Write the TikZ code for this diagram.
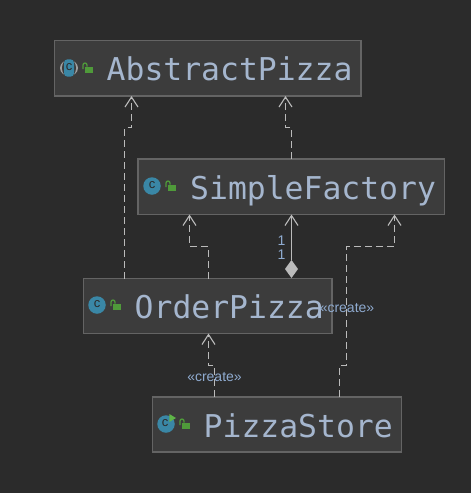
\documentclass[tikz,border=0pt]{standalone}
\usepackage{fontspec}
\setmainfont{Liberation Sans}
\newfontfamily\monof{DejaVu Sans Mono}
\usetikzlibrary{arrows.meta,shapes.geometric}
\definecolor{bgc}{HTML}{2B2B2B}
\definecolor{boxc}{HTML}{3C3C3C}
\definecolor{edgec}{HTML}{646464}
\definecolor{txt}{HTML}{A5B6CE}
\definecolor{linec}{HTML}{BBBBBB}
\definecolor{teal}{HTML}{3A87A6}
\definecolor{lockc}{HTML}{4F9A3A}
\definecolor{playc}{HTML}{5FB548}
\definecolor{lbl}{HTML}{8FABD0}
\tikzset{
  x=1pt,y=-1pt,
  cls/.style={draw=edgec,fill=boxc,line width=1.4pt,inner sep=0pt,outer sep=0pt,anchor=north west},
  nm/.style={font=\monof\fontsize{31.4}{31.4}\selectfont,text=txt,anchor=base west,inner sep=0pt},
  dep/.style={draw=linec,line width=1.1pt,dash pattern=on 7pt off 4pt,-{Straight Barb[length=10pt,width=13pt,line width=1.1pt]}},
  comp/.style={draw=linec,line width=1.5pt,-{Straight Barb[length=10pt,width=13pt,line width=1.1pt]}},
  dia/.style={diamond,fill=linec,minimum width=13pt,minimum height=18pt,inner sep=0pt,outer sep=0pt},
  stereo/.style={font=\fontsize{14}{14}\selectfont,text=lbl,inner sep=0pt},
  mult/.style={font=\fontsize{14}{14}\selectfont,text=lbl,inner sep=0pt},
  ball/.style={circle,fill=teal,minimum size=17.5pt,inner sep=0pt},
  cee/.style={font=\fontsize{13}{13}\selectfont,text=bgc,inner sep=0pt},
  pics/lock/.style={code={
    \fill[lockc] (-3,-2.3) rectangle (5.3,3.7);
    \draw[lockc,line width=1.3pt] (-5,0) -- (-5,-4) arc[start angle=180,end angle=0,x radius=2,y radius=-2] -- (-1,-2.3);
  }},
}
\begin{document}
\begin{tikzpicture}
\fill[bgc] (0,0) rectangle (471,493);
\useasboundingbox (0,0) rectangle (471,493);
% boxes
\node[cls,minimum width=306.5pt,minimum height=55.5pt] (ap) at (54.5,40.5) {};
\node[cls,minimum width=306.5pt,minimum height=55.5pt] (sf) at (138,159) {};
\node[cls,minimum width=248.5pt,minimum height=55pt] (op) at (83.5,278.5) {};
\node[cls,minimum width=249pt,minimum height=55pt] (ps) at (152.5,397) {};
% names
\node[nm] (apn) at (106.5,80) {AbstractPizza};
\node[nm] (sfn) at (190,199) {SimpleFactory};
\node[nm] (opn) at (134.5,318) {OrderPizza};
\node[nm] (psn) at (203.5,437) {PizzaStore};
% icons
\fill[gray!75] (69,68) ellipse[x radius=9,y radius=8];
\fill[boxc] (69,68) ellipse[x radius=7,y radius=9];
\fill[teal,rounded corners=3.5pt] (64,59.3) rectangle (74,76.7);
\node[cee] (apc) at (69,67) {c};
\pic at (88,69) {lock};
\node[ball] (sfi) at (152,186) {};
\node[cee] (sfc) at (152,185) {c};
\pic at (171,187) {lock};
\node[ball] (opi) at (97,305) {};
\node[cee] (opc) at (97,304) {c};
\pic at (116,306) {lock};
\node[ball] (psi) at (166,424) {};
\node[cee] (psc) at (165,423) {c};
\fill[playc] (169.3,414) -- (176,418) -- (169.3,422) -- cycle;
\pic at (185,425) {lock};
% connectors
\draw[dep] ([xshift=-83.25pt]op.north) -- ++(0,-151) -| ([xshift=-76.25pt]ap.south);
\draw[dep] ([xshift=0.25pt]sf.north) -- ++(0,-31.5) -| ([xshift=77.75pt]ap.south);
\draw[dep] ([xshift=0.75pt]op.north) -- ++(0,-32) -| ([xshift=-101.75pt]sf.south);
\node[dia] (d) at (291.5,269) {};
\draw[comp] (d.north) -- (d.north |- sf.south);
\draw[dep] ([xshift=62.5pt]ps.north) -- ++(0,-31.5) -- ++(7,0) -- ++(0,-119) -| ([xshift=103.25pt]sf.south);
\draw[dep] ([xshift=-62.5pt]ps.north) -- ++(0,-31.5) -| ([xshift=0.75pt]op.south);
% labels
\node[stereo] (l1) at (347,308) {«create»};
\node[stereo] (l2) at (214.5,377) {«create»};
\node[mult] (m1) at (281.5,240.5) {1};
\node[mult] (m2) at (281.5,254.5) {1};
\end{tikzpicture}
\end{document}
